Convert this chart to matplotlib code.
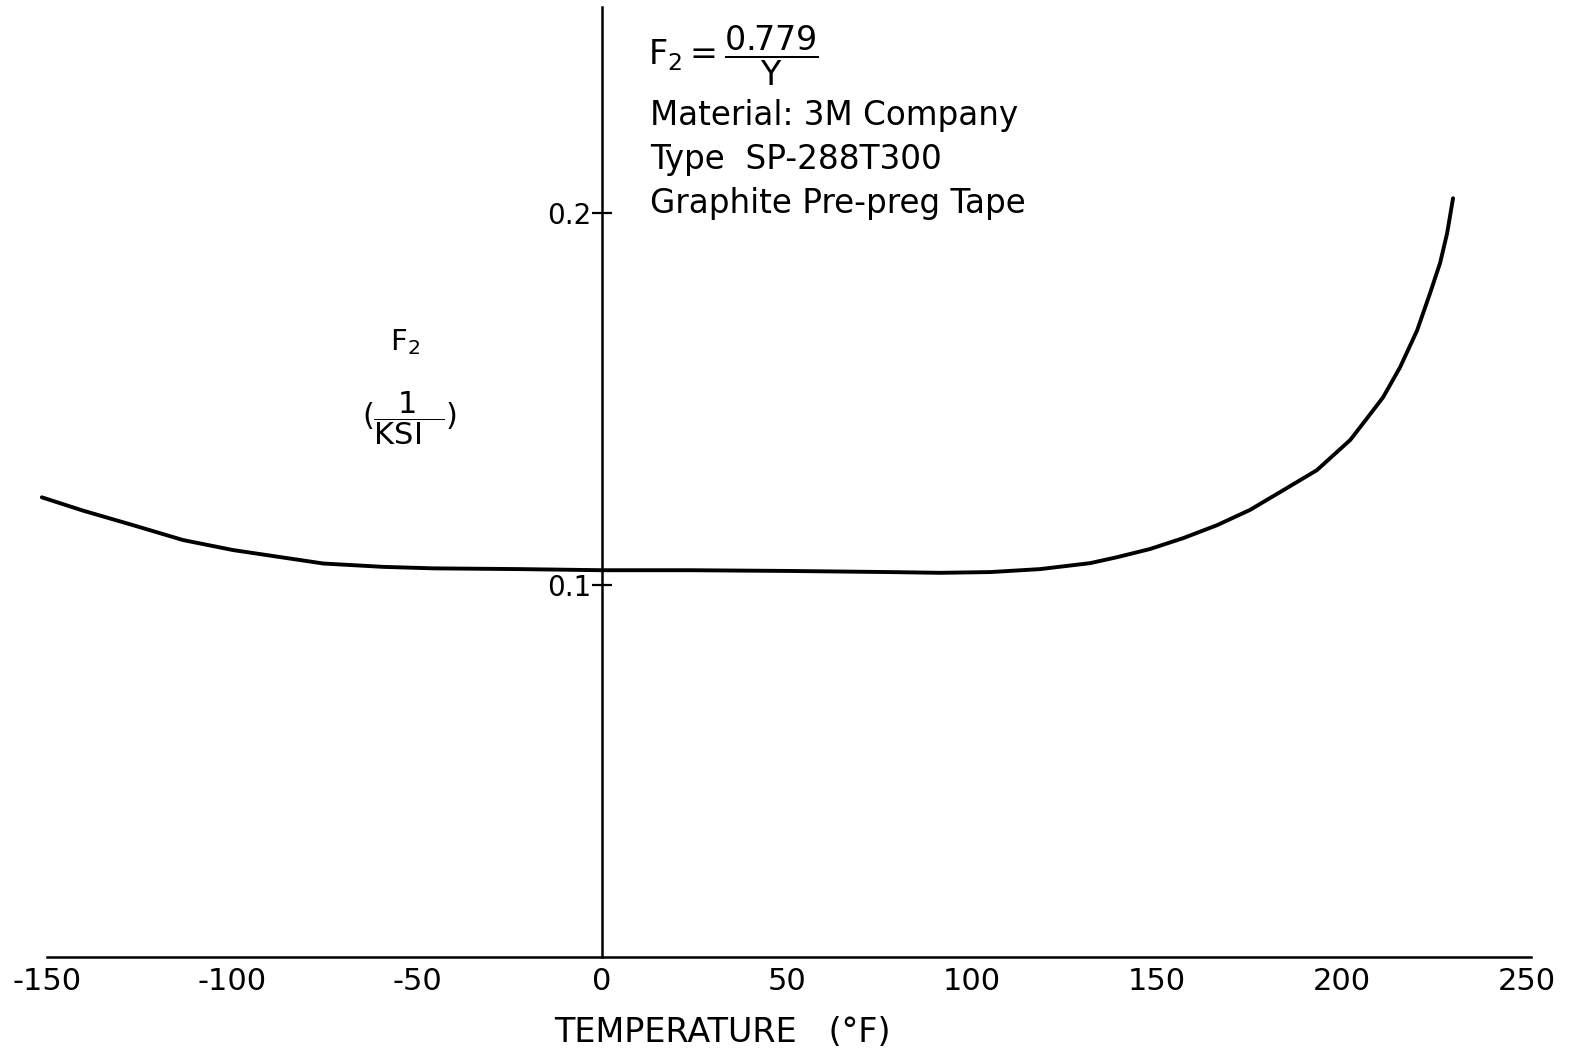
import matplotlib
matplotlib.use("Agg")
import matplotlib.pyplot as plt

# F2 interaction coefficient vs temperature (graphite pre-preg tape)
temperature_f = [-151.4, -140.2, -126.7, -113.2, -99.6, -86.1, -75.3, -59.1,
                 -45.6, -22.2, 0, 23.8, 50.8, 77.8, 91.4, 104.9, 118.4, 131.9,
                 139.2, 148.1, 157.0, 166.2, 175.1, 184.1, 193.2, 202.2, 206.8,
                 211.1, 215.7, 220.3, 223.8, 226.5, 228.4, 230.0]
f2_values = [0.1236, 0.1200, 0.1161, 0.1121, 0.1094, 0.1074, 0.1058, 0.1049,
             0.1045, 0.1043, 0.1040, 0.1040, 0.1038, 0.1035, 0.1033, 0.1035,
             0.1043, 0.1059, 0.1075, 0.1097, 0.1126, 0.1161, 0.1202, 0.1255,
             0.1309, 0.1390, 0.1449, 0.1505, 0.1586, 0.1685, 0.1785, 0.1866,
             0.1946, 0.2040]

x_ticks = [-150, -100, -50, 0, 50, 100, 150, 200, 250]
x_tick_labels = ["-150", "-100", "-50", "0", "50", "100", "150", "200", "250"]
y_ticks = [0.1, 0.2]
y_tick_labels = ["0.1", "0.2"]

plt.rcParams["font.family"] = ["DejaVu Sans"]
plt.rcParams["mathtext.fontset"] = "dejavusans"
plt.rcParams["axes.unicode_minus"] = False

fig = plt.figure(figsize=(15.77, 10.56), dpi=100)
ax = fig.add_axes([0, 0, 1, 1])
ax.set_xlim(-162.7, 263.5)
ax.set_ylim(-0.0266, 0.2573)

ax.plot(temperature_f, f2_values, color="black", lw=2.8,
        solid_capstyle="round", solid_joinstyle="round")

# cross-shaped axes through the origin
for side in ("top", "right"):
    ax.spines[side].set_visible(False)
ax.spines["left"].set_position(("data", 0))
ax.spines["bottom"].set_position(("data", 0))
ax.spines["left"].set_bounds(0, 0.2555)
ax.spines["bottom"].set_bounds(-150, 251)
for side in ("left", "bottom"):
    ax.spines[side].set_linewidth(1.8)
    ax.spines[side].set_color("black")
ax.patch.set_visible(False)

ax.set_xticks(x_ticks)
ax.set_xticklabels(x_tick_labels, fontsize=22)
ax.tick_params(axis="x", length=0, pad=7)
ax.set_yticks(y_ticks)
ax.set_yticklabels(y_tick_labels, fontsize=20)
ax.tick_params(axis="y", direction="inout", length=15, width=1.6, pad=0)

# axis titles
ax.text(32.4, -0.0202, "TEMPERATURE   (°F)", fontsize=24, ha="center", va="center")
ax.text(-53.2, 0.1653, r"$\mathrm{F}_2$", fontsize=21, ha="center", va="center")
ax.text(-52.0, 0.1449, r"$(\dfrac{\mathrm{1}}{\mathrm{KSI}\ \ })$",
        fontsize=22, ha="center", va="center")

# formula and material note
ax.text(12.4, 0.2422, r"$\mathrm{F}_2 = \dfrac{\mathrm{0.779}}{\mathrm{Y}}$",
        fontsize=24, ha="left", va="center")
note_lines = ["Material: 3M Company", "Type  SP-288T300", "Graphite Pre-preg Tape"]
for i, line in enumerate(note_lines):
    ax.text(13.0, 0.2262 - i * 0.0118, line, fontsize=23.5, ha="left", va="center")

fig.savefig("out.png", dpi=100)
